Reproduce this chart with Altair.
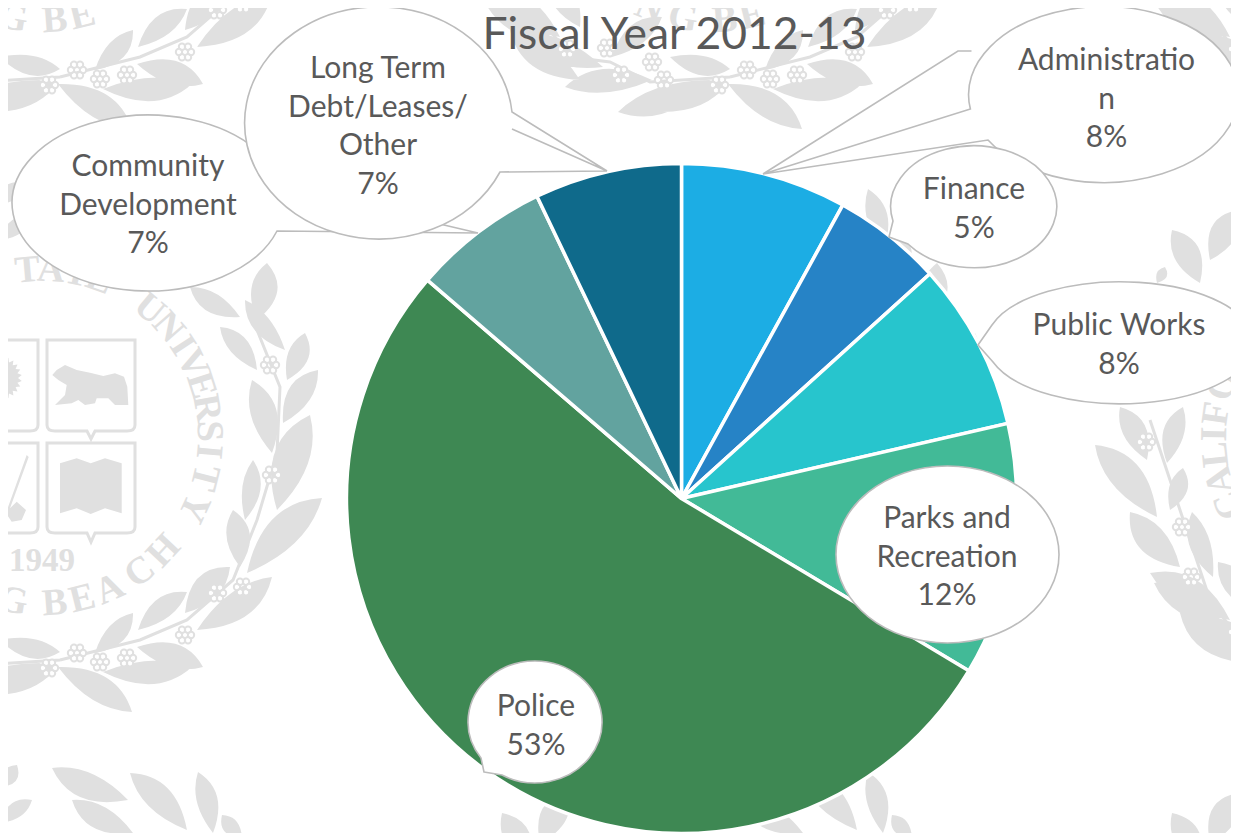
import math
import pandas as pd
import altair as alt

# ---- chart values ----
names = ["Administration", "Finance", "Public Works", "Parks and Recreation",
         "Police", "Community Development", "Long Term Debt/Leases/Other"]
values = [8.0, 5.3, 8.1, 12.2, 52.7, 6.6, 7.1]
colors = ["#1CADE4", "#2683C6", "#27C5CD", "#42BA97", "#3E8853", "#62A39F", "#0F6A8B"]
label_lines = ["Administratio\nn\n8%", "Finance\n5%", "Public Works\n8%",
               "Parks and\nRecreation\n12%", "Police\n53%",
               "Community\nDevelopment\n7%", "Long Term\nDebt/Leases/\nOther\n7%"]
title_text = "Fiscal Year 2012-13"

W, H = 1223, 825
X = alt.Scale(domain=[8, 8 + W], range=[0, W])
Y = alt.Scale(domain=[8, 8 + H], range=[0, H])
xa = lambda f: alt.X(f, scale=X, axis=None)
ya = lambda f: alt.Y(f, scale=Y, axis=None)


def arc(rx, ry, large, sweep, x, y):
    return f"A{rx} {ry} 0 {large} {sweep} {x} {y}"


def rel(cx, cy, p):
    return p[0] - cx, p[1] - cy


def ellipse(rx, ry):
    return f"M{-rx} 0 A{rx} {ry} 0 1 1 {rx} 0 A{rx} {ry} 0 1 1 {-rx} 0 Z"


def seq(cx, cy, items):
    out = []
    for it in items:
        if it[0] in "ML":
            x, y = rel(cx, cy, it[1])
            out.append(f"{it[0]}{x} {y}")
        elif it[0] == "A":
            x, y = rel(cx, cy, it[4])
            out.append(arc(it[1], it[2], 1, it[3], x, y))
        else:
            out.append("Z")
    return " ".join(out)


# ---- speech-bubble labels (centre, radii, outline) ----
callouts = [
    dict(tx=148, ty=167, cx=148, cy=203, path=seq(148, 203, [
        ("M", (277, 231)), ("L", (478, 233)), ("L", (444, 225)), ("L", (262, 155)),
        ("A", 136, 88, 0, (277, 231)), ("Z",)])),
    dict(tx=1106.5, ty=61, cx=1105, cy=96, path=seq(1105, 96, [
        ("M", (970.4, 109)), ("A", 135, 88, 1, (988, 140)), ("L", (763, 174)),
        ("L", (970.4, 109)), ("Z",),
        ("M", (971.5, 51)), ("L", (958, 51)), ("L", (763, 174))])),
    dict(tx=974, ty=190, cx=974, cy=207, path=seq(974, 207, [
        ("M", (889, 237)), ("L", (908, 244)), ("A", 83, 61, 0, (893, 221)), ("Z",)])),
    dict(tx=1119, ty=326, cx=1120, cy=343, path=seq(1120, 343, [
        ("M", (978, 345)), ("L", (993, 362)), ("A", 134, 61, 0, (992, 325)), ("Z",)])),
    dict(tx=947, ty=519, cx=947.5, cy=554.5, path=ellipse(111.5, 88.5)),
    dict(tx=378, ty=69, cx=378, cy=124, path=seq(378, 124, [
        ("M", (512, 129)), ("L", (607, 171)), ("L", (512, 112)),
        ("A", 134, 116, 0, (500, 172)), ("L", (607, 171))])),
    dict(tx=536, ty=707, cx=536, cy=723, path=seq(536, 723, [
        ("M", (484, 772)), ("L", (502, 775)), ("A", 67, 61, 0, (481, 758)), ("Z",)])),
]
label_of = {0: 5, 1: 0, 2: 1, 3: 2, 4: 3, 5: 6, 6: 4}
for i, c in enumerate(callouts):
    c["label"] = label_lines[label_of[i]]
    c["order"] = i

# ---- watermark (one seal tile, repeated) ----
tile_x = [0, 670, 1340]
tile_y = [-583, 0, 583]
seal_cx, seal_cy, ring_r = 42, 437, 167
leaves = [
    (220, 327, 257, 370, 15), (245, 300, 285, 350, 14), (305, 333, 287, 380, 16),
    (318, 370, 283, 423, 18), (252, 380, 272, 453, 20), (310, 415, 277, 510, 27),
    (253, 460, 245, 520, 14), (322, 498, 247, 573, 25), (233, 510, 240, 567, 18),
    (230, 567, 185, 613, 20), (272, 577, 197, 630, 21), (187, 592, 138, 630, 16),
    (133, 613, 95, 653, 15), (203, 667, 137, 647, 18), (192, 667, 103, 672, 18),
    (132, 712, 58, 667, 20), (60, 652, 0, 640, 15), (57, 667, -10, 695, 18),
    (-186, 583, -117, 626, 22), (-144, 616, -67, 650, 18), (-105, 670, -18, 663, 18),
    (-52, 695, 40, 663, 20), (-245, 445, -183, 517, 24), (-210, 512, -160, 567, 22),
    (-190, 573, -110, 620, 22), (-160, 613, -90, 663, 20), (-220, 407, -193, 460, 18),
    (-157, 407, -173, 463, 16), (-157, 468, -170, 510, 14), (-148, 512, -127, 577, 16),
    (-122, 562, -90, 610, 18), (52, 185, 128, 217, 20), (130, 190, 187, 247, 20),
    (72, 217, 133, 250, 18), (198, 189, 213, 250, 16), (222, 232, 242, 255, 12),
    (17, 182, 0, 204, 12), (32, 217, 0, 240, 12), (267, 263, 257, 320, 20),
    (190, 287, 240, 317, 15), (-168, 230, -140, 283, 20), (-101, 210, -130, 260, 20),
    (-175, 267, -183, 283, 8), (-8, 600, -58, 640, 16),
]
stem_points = [(60, 660), (140, 640), (187, 620), (233, 580), (257, 520), (277, 453),
               (280, 387), (253, 320)]
stem_points_left = [(60, 660), (-20, 665), (-60, 645), (-100, 640), (-130, 600),
                    (-150, 540), (-170, 480), (-190, 420)]
berries = [(270, 365), (272, 475), (243, 587), (217, 593), (185, 635), (127, 658),
           (100, 662), (77, 653), (49, 668), (-49, 658), (-18, 645), (-6, 663),
           (-63, 631), (-102, 633), (-194, 442), (-158, 527), (-149, 577), (-103, 632)]
top_word = "CALIFORNIASTATEUNIVERSITY"
top_deg = [-114, -105, -96, -89, -82, -72, -63, -54, -47, -40,
           -14, -5, 3, 12, 20, 40, 49, 57, 64, 72, 80, 88, 95, 104, 115]
bottom_word = "LONGBEACH"
bottom_deg = [226, 214, 202, 190, 175.6, 166, 156, 144, 133]


def leaf_path(x0, y0, x1, y1, w, i):
    w = w * 1.3
    dx, dy = x1 - x0, y1 - y0
    L = math.hypot(dx, dy) or 1
    px, py = -dy / L, dx / L
    bow = (0.07 if i % 2 else -0.07) * L
    mx, my = x0 + dx * 0.42, y0 + dy * 0.42
    a = (mx + px * (w + bow), my + py * (w + bow))
    b = (mx - px * (w - bow), my - py * (w - bow))
    return (f"M{x0} {y0} Q{a[0]:.1f} {a[1]:.1f} {x1} {y1} "
            f"Q{b[0]:.1f} {b[1]:.1f} {x0} {y0} Z")


def poly(points):
    return "M" + " L".join(f"{x:.1f} {y:.1f}" for x, y in points) + " Z"


def zx(v):
    return v / 3


def zy(v):
    return 320 + v / 3


bear = [(157, 165), (170, 150), (195, 135), (230, 150), (270, 158), (310, 168), (345, 160),
        (372, 170), (382, 200), (385, 255), (345, 255), (325, 235), (290, 235), (285, 250),
        (255, 255), (235, 240), (215, 250), (165, 255), (195, 225), (200, 195), (175, 180)]
book = [(180, 430), (230, 415), (272, 430), (315, 415), (365, 430), (365, 580), (315, 565),
        (272, 582), (230, 565), (180, 580)]
shovel = [(80, 405), (86, 411), (30, 565), (50, 545), (78, 570), (65, 600), (35, 605),
          (15, 575), (24, 562)]


def sun(cx, cy, r):
    pts = []
    for k in range(48):
        rr = r if k % 2 else r - 4
        t = k * math.pi / 24
        pts.append((cx + rr * math.cos(t), cy + rr * math.sin(t)))
    return poly(pts)


fill_path = " ".join(leaf_path(*l, i) for i, l in enumerate(leaves))
fill_path += " " + poly([(zx(x), zy(y)) for x, y in bear])
fill_path += " " + poly([(zx(x), zy(y)) for x, y in book])
fill_path += " " + poly([(zx(x), zy(y)) for x, y in shovel])
fill_path += " " + sun(0, 378, 22)


def shield(x0, x1, y0, y1, tip):
    return (f"M{x0} {y0} L{x1} {y0} L{x1} {y1 - 6} Q{x1} {y1} {x1 - 8} {y1} "
            f"L{(x0 + x1) / 2 + 4} {y1} L{(x0 + x1) / 2} {tip} L{(x0 + x1) / 2 - 4} {y1} "
            f"L{x0 + 8} {y1} Q{x0} {y1} {x0} {y1 - 6} Z")


line_path = " ".join([
    shield(47, 135, 340, 431, 439), shield(47, 135, 443, 533, 542),
    shield(-51, 38, 340, 431, 439), shield(-51, 38, 443, 533, 542),
    "M" + " L".join(f"{x} {y}" for x, y in stem_points),
    "M" + " L".join(f"{x} {y}" for x, y in stem_points_left),
])

berry_r, berry_d = 3.2, 6
berry_path = ""
for k in range(6):
    t = k * math.pi / 3
    bx, by = berry_d * math.cos(t), berry_d * math.sin(t)
    berry_path += (f"M{bx - berry_r:.1f} {by:.1f} A{berry_r} {berry_r} 0 1 1 {bx + berry_r:.1f} {by:.1f} "
                   f"A{berry_r} {berry_r} 0 1 1 {bx - berry_r:.1f} {by:.1f} Z ")

tiles = pd.DataFrame([{"x": a, "y": b} for a in tile_x for b in tile_y])
berry_rows = [{"x": a + bx, "y": b + by} for a in tile_x for b in tile_y for bx, by in berries]


def visible(x, y):
    return (8 <= x <= 8 + W and 8 <= y <= 8 + H
            and math.hypot(x - 681.5, y - 498.5) > 345)


letters = []
year_rows = []
for a in tile_x:
    for b in tile_y:
        for ch, d in zip(top_word, top_deg):
            t = math.radians(d)
            letters.append({"x": a + seal_cx + ring_r * math.sin(t), "y": b + seal_cy - ring_r * math.cos(t),
                            "t": ch, "a": d % 360})
        for ch, d in zip(bottom_word, bottom_deg):
            t = math.radians(d)
            letters.append({"x": a + seal_cx + ring_r * math.sin(t), "y": b + seal_cy - ring_r * math.cos(t),
                            "t": ch, "a": (d - 180) % 360})
        year_rows.append({"x": a + seal_cx, "y": b + 561, "t": "1949", "a": 0})
letters = [r for r in letters if visible(r["x"], r["y"])]
year_rows = [r for r in year_rows if visible(r["x"], r["y"])]

GREY = "#e0e0e0"
bg_fill = alt.Chart(tiles).mark_point(
    filled=True, fill=GREY, opacity=1, shape=fill_path, size=4
).encode(x=xa("x:Q"), y=ya("y:Q"))
bg_line = alt.Chart(tiles).mark_point(
    filled=False, stroke=GREY, strokeWidth=3, opacity=1, shape=line_path, size=4
).encode(x=xa("x:Q"), y=ya("y:Q"))
bg_berry = alt.Chart(pd.DataFrame(berry_rows)).mark_point(
    filled=True, fill="white", stroke=GREY, strokeWidth=2, opacity=1, shape=berry_path, size=4
).encode(x=xa("x:Q"), y=ya("y:Q"))
bg_text = alt.Chart(pd.DataFrame(letters)).mark_text(
    font="Liberation Serif", fontWeight="bold", fontSize=38, color=GREY,
    align="center", baseline="middle"
).encode(x=xa("x:Q"), y=ya("y:Q"), text="t:N", angle=alt.Angle("a:Q", scale=None))
bg_year = alt.Chart(pd.DataFrame(year_rows)).mark_text(
    font="Liberation Serif", fontWeight="bold", fontSize=33, color=GREY,
    align="center", baseline="middle"
).encode(x=xa("x:Q"), y=ya("y:Q"), text="t:N")

# ---- pie ----
pie_df = pd.DataFrame({"name": names, "value": values, "idx": range(len(names))})
pie = alt.Chart(pie_df).mark_arc(radius=335, stroke="white", strokeWidth=3.5).encode(
    theta=alt.Theta("value:Q", stack=True),
    color=alt.Color("name:N", scale=alt.Scale(domain=names, range=colors), legend=None),
    order=alt.Order("idx:Q"),
    x=alt.X(datum=681.5, scale=X, axis=None),
    y=alt.Y(datum=498.5, scale=Y, axis=None),
)

call_df = pd.DataFrame(callouts)
bubbles = alt.Chart(call_df).mark_point(
    filled=True, fill="white", stroke="#bcbcbc", strokeWidth=1.6, opacity=1, size=4
).encode(
    x=xa("cx:Q"), y=ya("cy:Q"),
    shape=alt.Shape("path:N", scale=None, legend=None),
    order=alt.Order("order:Q"),
)
labels = alt.Chart(call_df).mark_text(
    font="Lato", fontSize=30, color="#595959", lineBreak="\n", lineHeight=38.7,
    align="center", baseline="middle"
).encode(x=xa("tx:Q"), y=ya("ty:Q"), text="label:N")
title_mark = alt.Chart(pd.DataFrame({"x": [674.5], "y": [35.5], "t": [title_text]})).mark_text(
    font="Lato", fontSize=44.4, color="#595959", align="center", baseline="middle"
).encode(x=xa("x:Q"), y=ya("y:Q"), text="t:N")

chart = alt.layer(bg_fill, bg_line, bg_berry, bg_text, bg_year, pie, bubbles, labels, title_mark).properties(
    width=W, height=H, padding=0, autosize=alt.AutoSizeParams(type="none"),
    background="white",
).configure_view(stroke=None)

chart.save("out.html", embed_options={"renderer": "svg", "actions": False})
